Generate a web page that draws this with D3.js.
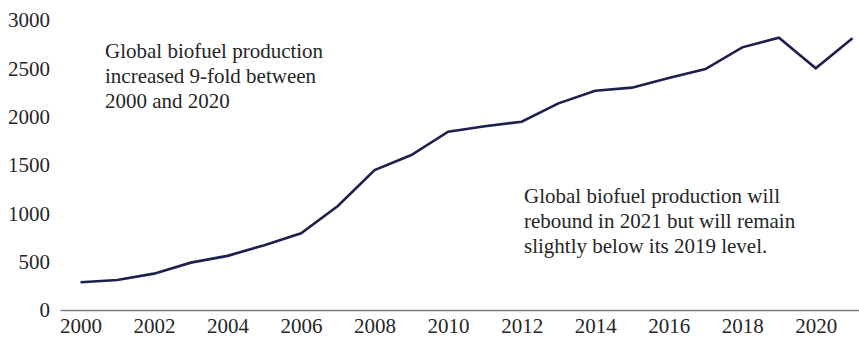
<!DOCTYPE html>
<html>
<head>
<meta charset="utf-8">
<script src="https://cdn.jsdelivr.net/npm/d3@7"></script>
<style>
  html, body { margin: 0; padding: 0; background: #fff; }
  svg { display: block; }
  text { font-family: "Liberation Serif", "DejaVu Serif", serif; fill: #262626; }
</style>
</head>
<body>
<svg id="chart" width="859" height="338"></svg>
<script>
// Global biofuel production, 2000–2021
const years = [2000, 2001, 2002, 2003, 2004, 2005, 2006, 2007, 2008, 2009, 2010,
               2011, 2012, 2013, 2014, 2015, 2016, 2017, 2018, 2019, 2020, 2021];
const production = [287, 310, 376, 490, 560, 670, 793, 1076, 1448, 1603, 1844,
                    1900, 1948, 2138, 2269, 2300, 2400, 2493, 2717, 2817, 2500, 2810];
const yTicks = [0, 500, 1000, 1500, 2000, 2500, 3000];
const xTicks = [2000, 2002, 2004, 2006, 2008, 2010, 2012, 2014, 2016, 2018, 2020];
const noteLeft = ["Global biofuel production", "increased 9-fold between", "2000 and 2020"];
const noteRight = ["Global biofuel production will", "rebound in 2021 but will remain", "slightly below its 2019 level."];

const svg = d3.select("#chart");
const fontSize = 21;

const x = d3.scaleLinear().domain([1999.442, 2021.177]).range([60, 859]);
const y = d3.scaleLinear().domain([0, 3000]).range([310, 20]);

// Y axis labels only
const yAxis = svg.append("g").attr("transform", "translate(60,0)")
  .call(d3.axisLeft(y).tickValues(yTicks).tickSize(0).tickPadding(10).tickFormat(d3.format("d")));
yAxis.select(".domain").remove();
yAxis.selectAll("text").style("font-size", fontSize + "px").attr("fill", "#262626")
  .style("font-family", '"Liberation Serif", serif');

// X axis with a baseline
const xAxis = svg.append("g").attr("transform", "translate(0,310)")
  .call(d3.axisBottom(x).tickValues(xTicks).tickSize(0).tickPadding(8).tickFormat(d3.format("d")));
xAxis.select(".domain").attr("stroke", "#7f7f7f").attr("stroke-width", 1.5);
xAxis.selectAll("text").style("font-size", fontSize + "px").attr("fill", "#262626")
  .style("font-family", '"Liberation Serif", serif');

// Production line
const line = d3.line().x((d, i) => x(years[i])).y(d => y(d));
svg.append("path")
  .datum(production)
  .attr("d", line)
  .attr("fill", "none")
  .attr("stroke", "#1d1f4e")
  .attr("stroke-width", 2.6)
  .attr("stroke-linejoin", "miter");

// Annotations
function note(lines, x0, y0) {
  const t = svg.append("text").style("font-size", fontSize + "px");
  lines.forEach((s, i) => {
    t.append("tspan").attr("x", x0).attr("y", y0 + i * 25).text(s);
  });
}
note(noteLeft, 105, 58);
note(noteRight, 524, 203);
</script>
</body>
</html>
